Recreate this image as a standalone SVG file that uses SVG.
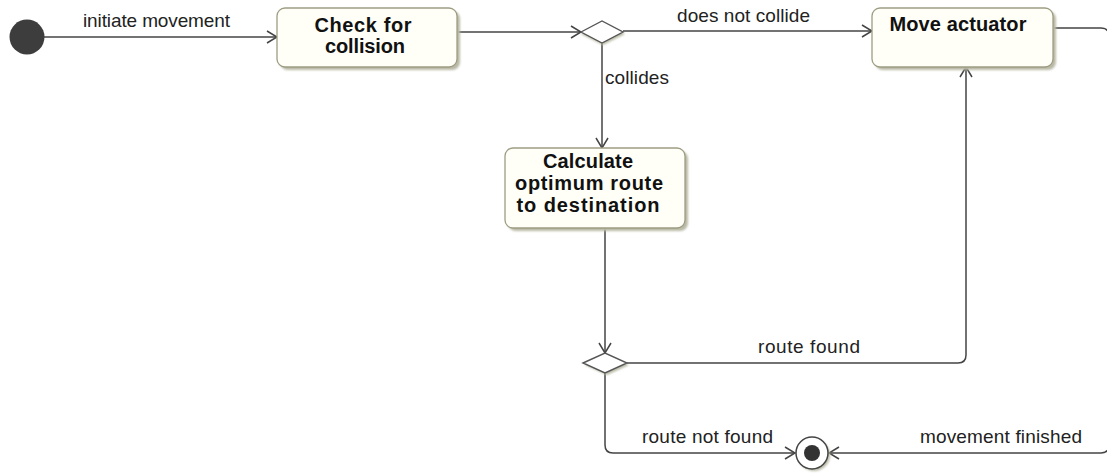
<svg xmlns="http://www.w3.org/2000/svg" width="1107" height="475" viewBox="0 0 1107 475">
  <style>
    .bg { fill: #ffffff; }
    .edge { fill: none; stroke: #444444; stroke-width: 1.5; }
    .shadow { fill: #b9b9a6; }
    .action { fill: #fffff8; stroke: #9d9d84; stroke-width: 1.3; }
    .decision { fill: #ffffff; stroke: #555555; stroke-width: 1.4; }
    .label { font-family: "Liberation Sans", Arial, sans-serif; font-size: 19px; fill: #222222; }
    .title { font-family: "Liberation Sans", Arial, sans-serif; font-size: 20px; font-weight: bold; fill: #111111; text-anchor: middle; }
  </style>
  <defs>
    <marker id="open" viewBox="-11 -7 12 14" refX="0" refY="0" markerWidth="12" markerHeight="14" markerUnits="userSpaceOnUse" orient="auto">
      <path d="M-10,-6 L0,0 L-10,6" fill="none" stroke="#444444" stroke-width="1.5"/>
    </marker>
    <filter id="soft" x="-20%" y="-20%" width="140%" height="140%">
      <feGaussianBlur stdDeviation="1"/>
    </filter>
  </defs>

  <rect class="bg" x="0" y="0" width="1107" height="475"/>

  <!-- connectors -->
  <g id="connectors">
    <path class="edge" d="M44,37 H277" marker-end="url(#open)"/>
    <path class="edge" d="M457,32 H581" marker-end="url(#open)"/>
    <path class="edge" d="M623,31 H872" marker-end="url(#open)"/>
    <path class="edge" d="M602,43 V148" marker-end="url(#open)"/>
    <path class="edge" d="M605,228 V353" marker-end="url(#open)"/>
    <path class="edge" d="M627,363 H958 Q966,363 966,355 V67" marker-end="url(#open)"/>
    <path class="edge" d="M605,373 V445 Q605,453 613,453 H795" marker-end="url(#open)"/>
    <!-- return path runs along the right border, just outside the canvas -->
    <path class="edge" d="M1053,28 H1101 Q1109,28 1109,36 V445 Q1109,453 1101,453 H829" marker-end="url(#open)"/>

    <text class="label" x="83" y="27" textLength="147" lengthAdjust="spacing">initiate movement</text>
    <text class="label" x="677" y="22" textLength="133" lengthAdjust="spacing">does not collide</text>
    <text class="label" x="605" y="84" textLength="64" lengthAdjust="spacing">collides</text>
    <text class="label" x="758" y="353" textLength="102" lengthAdjust="spacing">route found</text>
    <text class="label" x="642" y="443" textLength="131" lengthAdjust="spacing">route not found</text>
    <text class="label" x="920" y="443" textLength="162" lengthAdjust="spacing">movement finished</text>
  </g>

  <!-- start -->
  <g id="initial">
    <circle cx="27" cy="37" r="17.5" fill="#3d3d3d"/>
  </g>

  <!-- check for collision -->
  <g id="check-collision">
    <rect class="shadow" x="280" y="11" width="180" height="59" rx="8" filter="url(#soft)"/>
    <rect class="action" x="277" y="8" width="180" height="59" rx="8"/>
    <text class="title" x="363" y="32" textLength="97" lengthAdjust="spacing">Check for</text>
    <text class="title" x="365" y="53" textLength="80" lengthAdjust="spacing">collision</text>
  </g>

  <!-- collision decision -->
  <g id="collision-decision">
    <path class="shadow" d="M581,34 L603,23 L625,34 L603,45 Z" filter="url(#soft)"/>
    <path class="decision" d="M581,32 L602,21 L623,32 L602,43 Z"/>
  </g>

  <!-- move actuator -->
  <g id="move-actuator">
    <rect class="shadow" x="875" y="11" width="181" height="59" rx="8" filter="url(#soft)"/>
    <rect class="action" x="872" y="8" width="181" height="59" rx="8"/>
    <text class="title" x="958" y="31" textLength="137" lengthAdjust="spacing">Move actuator</text>
  </g>

  <!-- calculate route -->
  <g id="calculate-route">
    <rect class="shadow" x="508" y="151" width="180" height="80" rx="8" filter="url(#soft)"/>
    <rect class="action" x="505" y="148" width="180" height="80" rx="8"/>
    <text class="title" x="588" y="168" textLength="90" lengthAdjust="spacing">Calculate</text>
    <text class="title" x="589" y="190" textLength="148" lengthAdjust="spacing">optimum route</text>
    <text class="title" x="588" y="212" textLength="143" lengthAdjust="spacing">to destination</text>
  </g>

  <!-- route decision -->
  <g id="route-decision">
    <path class="shadow" d="M585,365 L607,355 L629,365 L607,375 Z" filter="url(#soft)"/>
    <path class="decision" d="M583,363 L605,353 L627,363 L605,373 Z"/>
  </g>

  <!-- end -->
  <g id="final">
    <circle cx="814" cy="455" r="16" class="shadow" filter="url(#soft)"/>
    <circle cx="812" cy="453" r="16" fill="#ffffff" stroke="#444444" stroke-width="1.5"/>
    <circle cx="812" cy="453" r="8" fill="#333333"/>
  </g>
</svg>
